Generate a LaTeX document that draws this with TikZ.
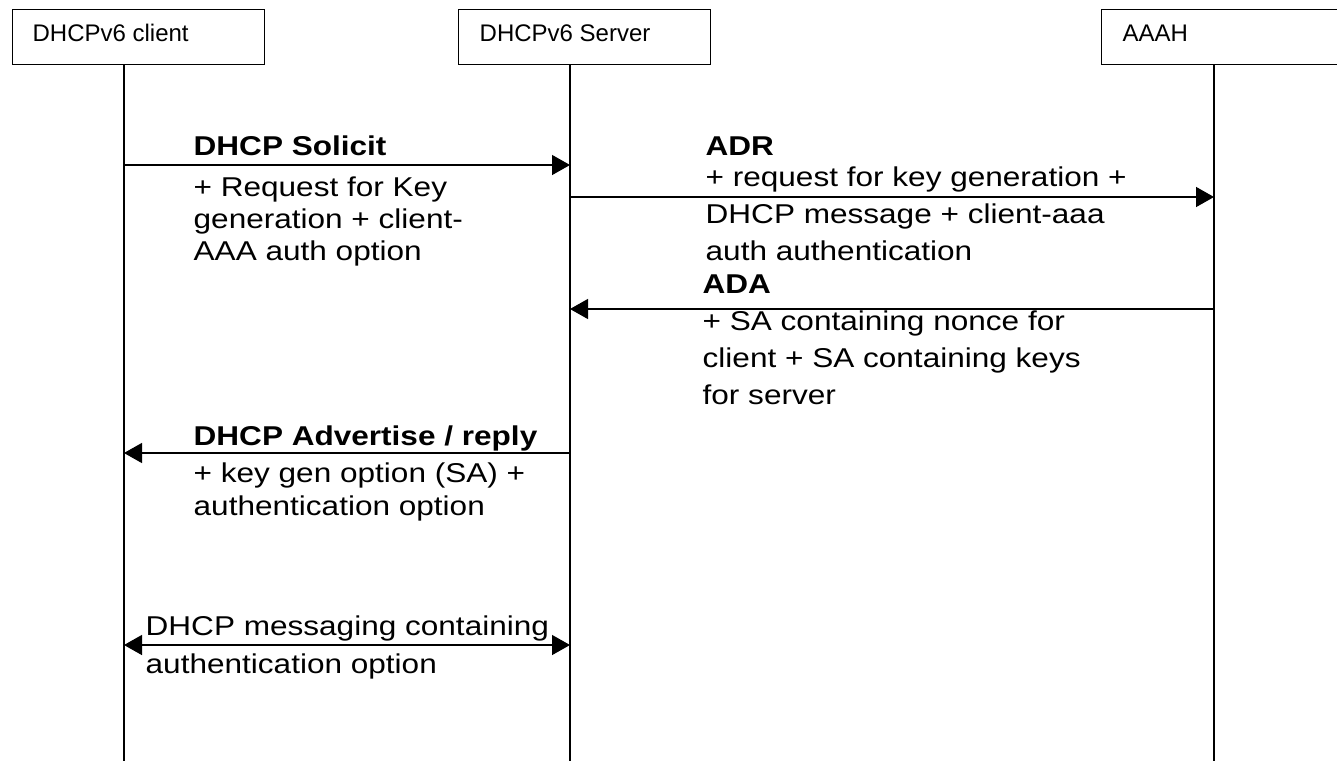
\documentclass[tikz,border=0pt]{standalone}
\usepackage{fontspec}
\setmainfont{Liberation Sans}
\newfontfamily\msgfont{Liberation Sans}[FakeStretch=1.16]
\usetikzlibrary{arrows.meta}
\begin{document}
\begin{tikzpicture}[x=0.75pt,y=-0.75pt,line width=1pt,
  actor/.style={draw,minimum width=189pt,minimum height=41.25pt,inner sep=0pt,anchor=north west},
  boxlbl/.style={anchor=base west,inner sep=0pt,font=\fontsize{18}{21}\selectfont},
  msg/.style={-{Triangle[length=13.5pt,width=15pt]}},
  bimsg/.style={{Triangle[length=13.5pt,width=15pt]}-{Triangle[length=13.5pt,width=15pt]}},
  head/.style={anchor=base west,inner sep=0pt,font=\msgfont\bfseries\fontsize{20.4}{24}\selectfont},
  body/.style={anchor=base west,inner sep=0pt,align=left,font=\msgfont\fontsize{20.4}{#1}\selectfont},
  body/.default=24pt]
\useasboundingbox (0,0) rectangle (1337,760);
\clip (0,0) rectangle (1337,760);
\fill[white] (0,0) rectangle (1337,760);

% actor boxes
\node[actor] (client) at (12,9) {};
\node[actor] (server) at (458,9) {};
\node[actor] (aaah) at (1101,9) {};
\node[boxlbl] (clientlbl) at (32,41.7) {DHCPv6 client};
\node[boxlbl] (serverlbl) at (479,41.7) {DHCPv6 Server};
\node[boxlbl] (aaahlbl) at (1122,41.7) {AAAH};

% lifelines
\coordinate (cT) at (124,64);  \coordinate (cB) at (124,762);
\coordinate (sT) at (570,64);  \coordinate (sB) at (570,762);
\coordinate (aT) at (1214,64); \coordinate (aB) at (1214,762);
\draw (cT) -- (cB);
\draw (sT) -- (sB);
\draw (aT) -- (aB);

% message points
\coordinate (c1) at (124,165); \coordinate (s1) at (570,165);
\coordinate (s2) at (570,197); \coordinate (a2) at (1214,197);
\coordinate (a3) at (1214,309); \coordinate (s3) at (570,309);
\coordinate (s4) at (570,453); \coordinate (c4) at (124,453);
\coordinate (c5) at (124,645); \coordinate (s5) at (570,645);

\draw[msg] (c1) -- (s1);
\draw[msg] (s2) -- (a2);
\draw[msg] (a3) -- (s3);
\draw[msg] (s4) -- (c4);
\draw[bimsg] (c5) -- (s5);

% labels (body nodes are anchored at the baseline of their last line)
\node[head] (solh) at (193,155) {DHCP Solicit};
\node[body=24pt] (solb) at (193,260) {+ Request for Key\\generation + client-\\AAA auth option};

\node[head] (adrh) at (705,155) {ADR};
\node[body=27.4pt] (adrb) at (705,260) {+ request for key generation +\\DHCP message + client-aaa\\auth authentication};

\node[head] (adah) at (702,293) {ADA};
\node[body=27.4pt] (adab) at (702,404) {+ SA containing nonce for\\client + SA containing keys\\for server};

\node[head] (advh) at (193,445) {DHCP Advertise / reply};
\node[body=24.75pt] (advb) at (193,515) {+ key gen option (SA) +\\authentication option};

\node[body=28.5pt] (msgb) at (145,673) {DHCP messaging containing\\authentication option};
\end{tikzpicture}
\end{document}
